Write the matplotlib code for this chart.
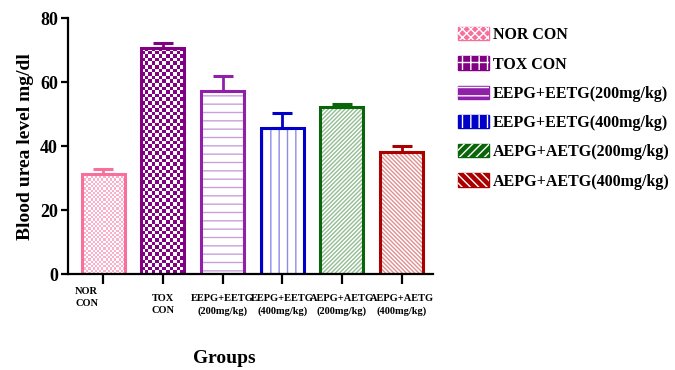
import numpy as np
import matplotlib
matplotlib.use('Agg')
import matplotlib.pyplot as plt
from matplotlib.colors import ListedColormap
from matplotlib.patches import Patch
from matplotlib.legend_handler import HandlerTuple
from matplotlib.transforms import ScaledTranslation

groups = ['NOR CON', 'TOX CON', 'EEPG+EETG(200mg/kg)', 'EEPG+EETG(400mg/kg)',
          'AEPG+AETG(200mg/kg)', 'AEPG+AETG(400mg/kg)']
tick_labels = ['NOR\nCON', 'TOX\nCON', 'EEPG+EETG\n(200mg/kg)', 'EEPG+EETG\n(400mg/kg)',
               'AEPG+AETG\n(200mg/kg)', 'AEPG+AETG\n(400mg/kg)']
urea_mean = [31.2, 70.8, 57.2, 45.7, 52.1, 38.1]
urea_sem = [1.6, 1.3, 4.6, 4.7, 1.2, 1.8]

edge_colors = ['#F7709C', '#820082', '#9020AA', '#0000C8', '#0A640A', '#AA0000']
light_colors = ['#F9B0C8', '#820082', '#C9A0DA', '#8C8CE6', '#93BD93', '#E09090']
hatches = [None, None, '--', '||', '////////', '\\\\\\\\\\\\\\\\']

plt.rcParams['font.family'] = ['Liberation Serif', 'DejaVu Serif']
plt.rcParams['font.weight'] = 'bold'
plt.rcParams['hatch.linewidth'] = 1.0

fig = plt.figure(figsize=(6.75, 3.7), dpi=100)
ax = fig.add_axes([0.1, 0.259, 0.541, 0.692])
ax.set_xlim(-0.6, 5.52)
ax.set_ylim(0, 80)

x = np.arange(len(groups))
width = 0.72


def checker_fill(ax, xc, h, cell_px, c_on, c_off):
    # fill a bar with a checkerboard texture sized in screen pixels
    p0 = ax.transData.transform((0, 0))
    p1 = ax.transData.transform((1, 1))
    nx = max(1, int(round(width * (p1[0] - p0[0]) / cell_px)))
    ny = max(1, int(round(h * (p1[1] - p0[1]) / cell_px)))
    ii, jj = np.indices((ny, nx))
    board = (ii + jj) % 2
    ax.imshow(board, extent=(xc - width / 2, xc + width / 2, 0, h), origin='lower',
              cmap=ListedColormap([c_off, c_on]), interpolation='nearest',
              aspect='auto', zorder=1)


for i in range(len(groups)):
    if i == 0:
        checker_fill(ax, x[i], urea_mean[i], 2.2, light_colors[i], 'white')
    elif i == 1:
        checker_fill(ax, x[i], urea_mean[i], 3.6, edge_colors[i], 'white')
    else:
        ax.bar(x[i], urea_mean[i], width=width, color='white', edgecolor=light_colors[i],
               hatch=hatches[i], linewidth=0, zorder=1)
    ax.errorbar(x[i], urea_mean[i], yerr=[[0], [urea_sem[i]]], color=edge_colors[i],
                elinewidth=2, capsize=7, capthick=2.2, zorder=1.5)
    ax.bar(x[i], urea_mean[i], width=width, fill=False, edgecolor=edge_colors[i],
           linewidth=2.2, zorder=2)

ax.set_xlim(-0.6, 5.52)
ax.set_ylim(0, 80)

for side in ['top', 'right']:
    ax.spines[side].set_visible(False)
for side in ['left', 'bottom']:
    ax.spines[side].set_linewidth(1.6)

ax.set_yticks([0, 20, 40, 60, 80])
ax.tick_params(axis='y', length=5, width=1.6, labelsize=13, pad=2)
ax.set_xticks(x)
ax.set_xticklabels(tick_labels, fontsize=7.5, linespacing=1.5)
ax.tick_params(axis='x', length=7, width=1.6, pad=7)
for lbl in ax.get_yticklabels():
    lbl.set_fontweight('bold')
xlabels = ax.get_xticklabels()
for lbl in xlabels:
    lbl.set_fontweight('bold')
xlabels[0].set_transform(xlabels[0].get_transform() +
                         ScaledTranslation(-12 / 72, 5 / 72, fig.dpi_scale_trans))

ax.set_ylabel('Blood urea level mg/dl', fontsize=14, fontweight='bold', labelpad=4)
fig.text(0.333, 0.03, 'Groups', fontsize=14, fontweight='bold', ha='center', va='center')

# legend swatches: colored box with white pattern on top
leg_hatch = ['xxxx', '++', '--', '||', '////', '\\\\\\\\']
handles = []
for i in range(len(groups)):
    handles.append((Patch(facecolor=edge_colors[i], edgecolor=edge_colors[i], linewidth=1),
                    Patch(facecolor='none', edgecolor='white', hatch=leg_hatch[i], linewidth=0)))
fig.legend(handles, groups, handler_map={tuple: HandlerTuple(ndivide=1)},
           loc='upper left', bbox_to_anchor=(0.667, 0.948), frameon=False,
           handlelength=1.9, handleheight=0.9, handletextpad=0.25,
           labelspacing=0.82, borderpad=0, prop={'weight': 'bold', 'size': 11.5})

fig.savefig('out.png', dpi=100)
